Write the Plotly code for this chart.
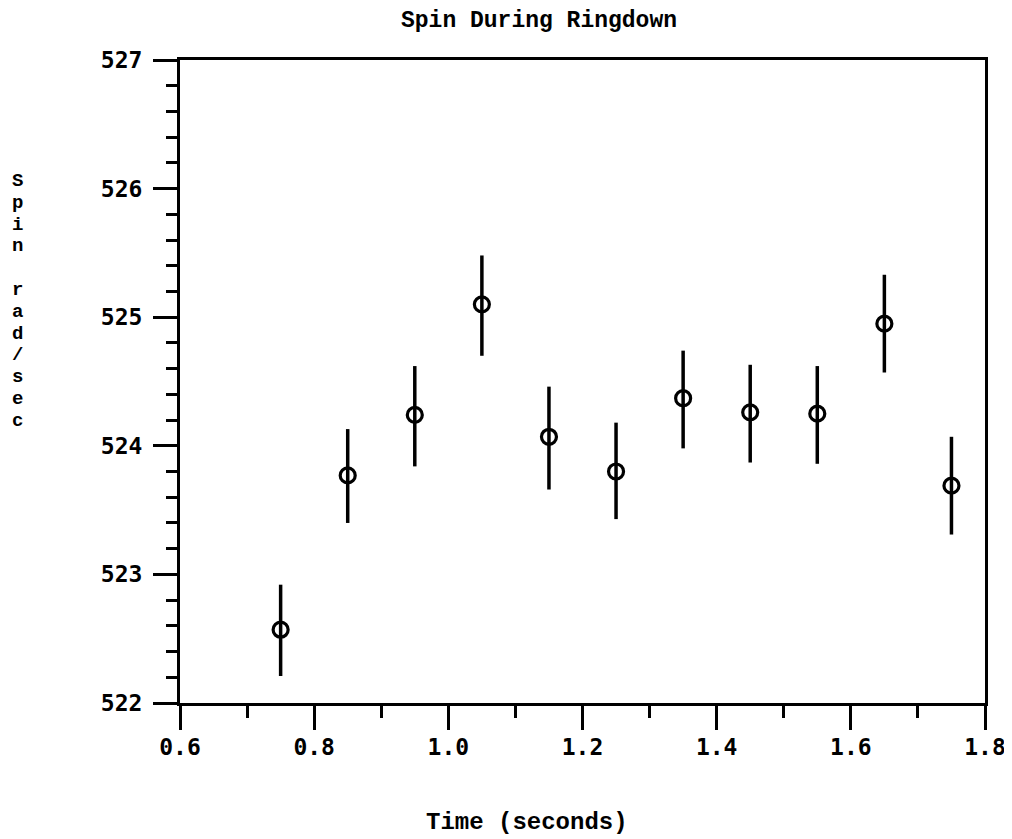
import plotly.graph_objects as go

# Data
time_s = [0.75, 0.85, 0.95, 1.05, 1.15, 1.25, 1.35, 1.45, 1.55, 1.65, 1.75]
spin = [522.57, 523.77, 524.24, 525.10, 524.07, 523.80, 524.37, 524.26, 524.25, 524.95, 523.69]
err_plus = [0.35, 0.36, 0.38, 0.38, 0.39, 0.38, 0.37, 0.37, 0.37, 0.38, 0.38]
err_minus = [0.36, 0.37, 0.40, 0.40, 0.41, 0.37, 0.39, 0.39, 0.39, 0.38, 0.38]

title_text = "Spin During Ringdown"
x_label = "Time (seconds)"
y_label = "Spin rad/sec"

# page body margin offset (px) of the rendered figure inside the window
OFF = 8
W, H = 1000, 828
# plot area in window pixels
PX0, PX1, PY0, PY1 = 180, 985, 60, 703
L, T = PX0 - OFF, PY0 - OFF
R, B = W - (PX1 - OFF), H - (PY1 - OFF)
PW, PH = PX1 - PX0, PY1 - PY0


def to_paper(xw, yw):
    return (xw - PX0) / PW, (PY1 - yw) / PH


fig = go.Figure()
fig.add_trace(go.Scatter(
    x=time_s, y=spin, mode="markers",
    marker=dict(symbol="circle-open", size=15, color="black", line=dict(width=3.2, color="black")),
    error_y=dict(type="data", symmetric=False, array=err_plus, arrayminus=err_minus,
                 width=0, thickness=3.5, color="black"),
    showlegend=False,
))

tickfont = dict(family="DejaVu Sans Mono", size=23, color="black", weight="bold")

fig.update_xaxes(
    range=[0.6, 1.8], dtick=0.2, tick0=0.6, tickformat=".1f", automargin=False,
    showgrid=False, zeroline=False,
    showline=True, linewidth=3, linecolor="black", mirror=True,
    ticks="outside", ticklen=24, tickwidth=3, tickcolor="black",
    tickfont=tickfont, ticklabelstandoff=-3,
    minor=dict(dtick=0.1, tick0=0.6, ticks="outside", ticklen=12, tickwidth=3, tickcolor="black", showgrid=False),
)
fig.update_yaxes(
    range=[522, 527], dtick=1, tick0=522, automargin=False,
    showgrid=False, zeroline=False,
    showline=True, linewidth=3, linecolor="black", mirror=True,
    ticks="outside", ticklen=24, tickwidth=3, tickcolor="black",
    tickfont=tickfont, ticklabelstandoff=6,
    minor=dict(dtick=0.2, tick0=522, ticks="outside", ticklen=11, tickwidth=3, tickcolor="black", showgrid=False),
)

title_font = dict(family="Liberation Mono", size=23, color="black", weight="bold")
xlab_font = dict(family="Liberation Mono", size=24, color="black", weight="bold")
ylab_font = dict(family="Liberation Mono", size=19, color="black", weight="bold")

annotations = []
# x axis title
ax, ay = to_paper(527, 822)
annotations.append(dict(
    text=x_label, xref="paper", yref="paper", x=ax, y=ay,
    xanchor="center", yanchor="middle", showarrow=False, font=xlab_font,
))
# y axis title: vertically stacked characters
y0_px, step_px = 181, 21.8
for i, ch in enumerate(y_label):
    if ch == " ":
        continue
    cx, cy = to_paper(17, y0_px + i * step_px)
    annotations.append(dict(
        text=ch, xref="paper", yref="paper", x=cx, y=cy,
        xanchor="center", yanchor="middle", showarrow=False, font=ylab_font,
    ))

fig.update_layout(
    width=W, height=H,
    margin=dict(l=L, r=R, t=T, b=B, pad=0),
    paper_bgcolor="white", plot_bgcolor="white",
    title=dict(text=title_text, xref="container", yref="container",
               x=(539 - OFF) / W, y=1 - (19 - OFF) / H, xanchor="center", yanchor="middle",
               font=title_font),
    annotations=annotations,
)

fig.write_html("out.html")
